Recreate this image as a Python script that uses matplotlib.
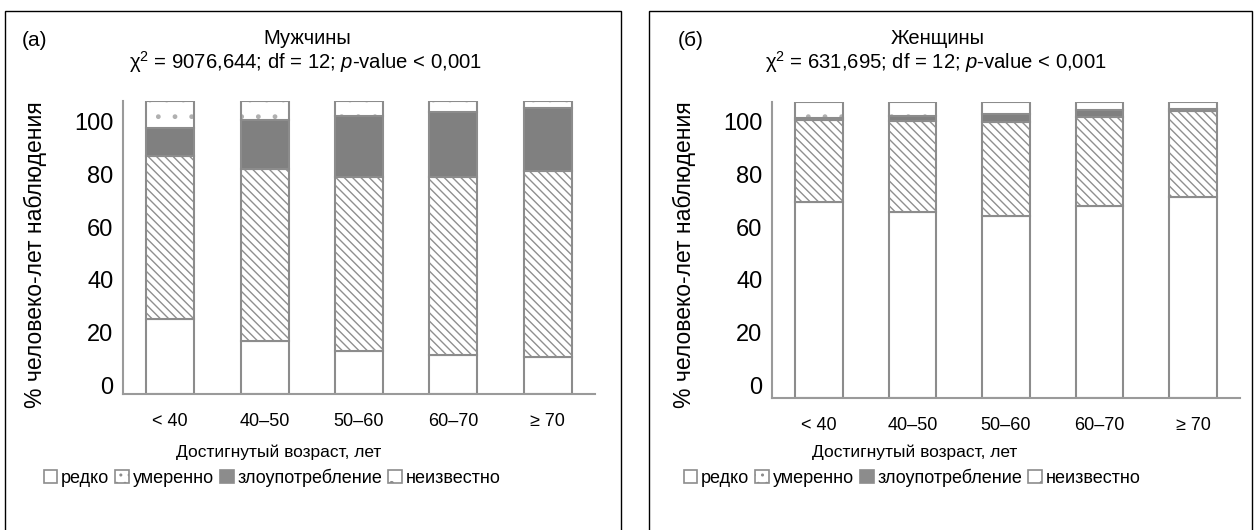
import matplotlib
matplotlib.use("Agg")
import matplotlib.pyplot as plt
from matplotlib.patches import Patch, Rectangle
from matplotlib.transforms import ScaledTranslation

plt.rcParams["font.family"] = ["Liberation Sans", "DejaVu Sans"]
plt.rcParams["mathtext.fontset"] = "custom"
plt.rcParams["mathtext.rm"] = "Liberation Sans"
plt.rcParams["mathtext.it"] = "Liberation Sans:italic"
plt.rcParams["hatch.linewidth"] = 1.0

AGES = ["< 40", "40–50", "50–60", "60–70", "≥ 70"]
CATEGORIES = ["редко", "умеренно", "злоупотребление", "неизвестно"]

MEN_RARE = [28.5, 20.1, 16.3, 14.7, 14.1]
MEN_MODERATE = [62.0, 65.2, 66.0, 67.6, 70.5]
MEN_ABUSE = [10.4, 18.7, 23.3, 24.8, 24.0]
MEN_UNKNOWN = [10.4, 7.2, 5.7, 4.2, 2.7]

WOMEN_RARE = [74.3, 70.5, 69.1, 73.0, 76.5]
WOMEN_MODERATE = [31.5, 34.8, 35.6, 33.8, 32.7]
WOMEN_ABUSE = [0.6, 1.8, 3.4, 2.5, 0.5]
WOMEN_UNKNOWN = [6.1, 5.4, 4.4, 3.2, 2.9]

Y_TICKS = [0, 20, 40, 60, 80, 100]

EDGE = "#8c8c8c"
# facecolor, hatch, hatch colour
STYLES = [
    ("white", None, EDGE),
    ("white", "\\\\\\\\", "#8f8f8f"),
    ("#808080", None, EDGE),
    ("white", ".", "#b0b0b0"),
]

W, H = 1258, 530


def fx(px):
    return px / W


def fy(py):
    return 1 - py / H


def draw_panel(ax, series, label_shift_px):
    x = list(range(len(AGES)))
    bottom = [0.0] * len(AGES)
    for values, (face, hatch, hcolor) in zip(series, STYLES):
        ax.bar(x, values, width=0.51, bottom=bottom, facecolor=face,
               hatch=hatch, edgecolor=hcolor, linewidth=0)
        ax.bar(x, values, width=0.51, bottom=bottom, fill=False,
               edgecolor=EDGE, linewidth=1.5)
        bottom = [b + v for b, v in zip(bottom, values)]
    ax.set_xlim(-0.5, len(AGES) - 0.5)
    ax.set_ylim(0, max(bottom))
    ax.set_xticks(x, AGES, fontsize=13)
    ax.set_yticks(Y_TICKS, [str(t) for t in Y_TICKS], fontsize=17)
    ax.tick_params(length=0)
    ax.tick_params(axis="x", pad=13.5)
    ax.tick_params(axis="y", pad=7)
    for side in ("top", "right"):
        ax.spines[side].set_visible(False)
    for side in ("left", "bottom"):
        ax.spines[side].set_color("#9a9a9a")
        ax.spines[side].set_linewidth(1.5)
    shift = ScaledTranslation(0, label_shift_px / 100, ax.figure.dpi_scale_trans)
    for lab in ax.get_yticklabels():
        lab.set_transform(lab.get_transform() + shift)


fig = plt.figure(figsize=(12.58, 5.30), dpi=100)

for x0, x1 in ((5, 621), (649, 1252)):
    fig.patches.append(Rectangle((fx(x0), -0.01), fx(x1 - x0), fy(11) + 0.01,
                                 transform=fig.transFigure, fill=False,
                                 edgecolor="black", linewidth=1.0))

ax1 = fig.add_axes([fx(123), fy(394), fx(595 - 123), (394 - 101) / H])
ax2 = fig.add_axes([fx(772), fy(398), fx(1240 - 772), (398 - 101.7) / H])

draw_panel(ax1, [MEN_RARE, MEN_MODERATE, MEN_ABUSE, MEN_UNKNOWN], 9)
draw_panel(ax2, [WOMEN_RARE, WOMEN_MODERATE, WOMEN_ABUSE, WOMEN_UNKNOWN], 13)

panels = [
    ("(a)", 22, 307, "Мужчины", "χ$^{2}$ = 9076,644; df = 12; $p$-value < 0,001", 35, 279, 272),
    ("(б)", 678, 938, "Женщины", "χ$^{2}$ = 631,695; df = 12; $p$-value < 0,001", 684, 915, 912),
]

handles = [
    Patch(facecolor="white", edgecolor=EDGE, linewidth=1.2),
    Patch(facecolor="white", edgecolor=EDGE, linewidth=1.2, hatch=".."),
    Patch(facecolor="#8c8c8c", edgecolor="#8c8c8c", linewidth=1.2),
    Patch(facecolor="white", edgecolor=EDGE, linewidth=1.2, hatch="."),
]

for tag, tag_x, title_x, title, stats, ylab_x, xlab_x, leg_x in panels:
    fig.text(fx(tag_x), fy(41), tag, fontsize=15, ha="left", va="center")
    fig.text(fx(title_x), fy(39), title, fontsize=14.5, ha="center", va="center")
    fig.text(fx(title_x - 2), fy(62), stats, fontsize=14.6, ha="center", va="center")
    fig.text(fx(ylab_x), fy(255), "% человеко-лет наблюдения", fontsize=16.5,
             rotation=90, ha="center", va="center")
    fig.text(fx(xlab_x), fy(452), "Достигнутый возраст, лет", fontsize=12.5,
             ha="center", va="center")
    fig.legend(handles, CATEGORIES, loc="center", bbox_to_anchor=(fx(leg_x), fy(478)),
               ncol=4, frameon=False, fontsize=13, handlelength=0.75,
               handleheight=0.75, handletextpad=0.2, columnspacing=0.35,
               borderpad=0, borderaxespad=0)

fig.savefig("out.png", dpi=100)
